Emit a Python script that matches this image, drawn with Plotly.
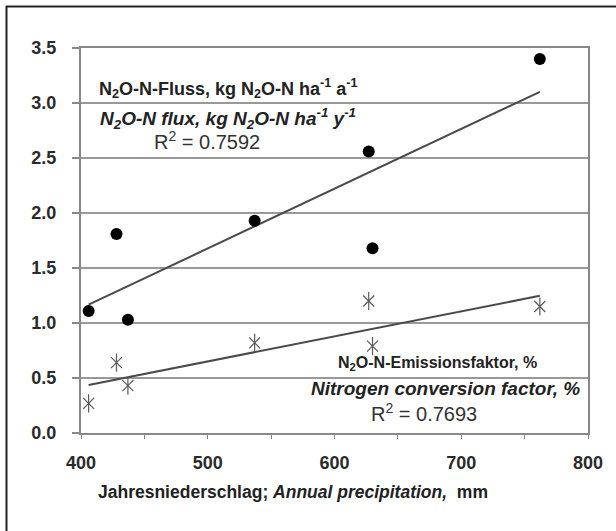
import numpy as np
import plotly.graph_objects as go

# Data
precip = [406, 428, 437, 537, 627, 630, 762]           # mm
flux = [1.11, 1.81, 1.03, 1.93, 2.56, 1.68, 3.40]       # kg N2O-N ha-1 a-1
emfactor = [0.27, 0.64, 0.43, 0.82, 1.20, 0.79, 1.15]   # %
y_ticks = [0.0, 0.5, 1.0, 1.5, 2.0, 2.5, 3.0, 3.5]
x_ticks = [400, 500, 600, 700, 800]

FONT = "Arial, Liberation Sans, sans-serif"
W, H = 616, 531
L, R, T, B = 81, 28, 48, 98
PW, PH = W - L - R, H - T - B

def px_to_x(px):
    return 400 + (px - L) * 400 / PW

def py_to_y(py):
    return (T + PH - py) * 3.5 / PH

def fit(x, y):
    x = np.asarray(x, float); y = np.asarray(y, float)
    b, a = np.polyfit(x, y, 1)
    xs = np.array([x.min(), x.max()])
    return xs, a + b * xs

fig = go.Figure()

for yv in (flux, emfactor):
    xs, ys = fit(precip, yv)
    fig.add_trace(go.Scatter(x=xs, y=ys, mode="lines",
                             line=dict(color="#4a4a4a", width=2),
                             hoverinfo="skip", showlegend=False))

fig.add_trace(go.Scatter(x=precip, y=flux, mode="markers",
                         marker=dict(symbol="circle", size=12, color="black"),
                         showlegend=False))
fig.add_trace(go.Scatter(x=precip, y=emfactor, mode="markers",
                         marker=dict(symbol="x-thin-open", size=11, color="#5a5a5a",
                                     line=dict(color="#5a5a5a", width=1.2)),
                         showlegend=False))
fig.add_trace(go.Scatter(x=precip, y=emfactor, mode="markers",
                         marker=dict(symbol="line-ns-open", size=13, color="#5a5a5a",
                                     line=dict(color="#5a5a5a", width=1.2)),
                         showlegend=False))

def ann(text, px, py, size=14, color="#222222"):
    fig.add_annotation(x=px_to_x(px), y=py_to_y(py), xref="x", yref="y",
                       text=text, showarrow=False, xanchor="center",
                       yanchor="middle",
                       font=dict(family=FONT, size=size, color=color))

ann("<b>N<sub>2</sub>O-N-Fluss, kg N<sub>2</sub>O-N ha<sup>-1</sup> a<sup>-1</sup></b>", 228, 88, size=18)
ann("<b><i>N<sub>2</sub>O-N flux, kg N<sub>2</sub>O-N ha<sup>-1</sup> y<sup>-1</sup></i></b>", 228, 118, size=19)
ann("R<sup>2</sup> = 0.7592", 207, 140, size=20, color="#333333")
ann("<b>N<sub>2</sub>O-N-Emissionsfaktor, %</b>", 437, 363, size=16)
ann("<b><i>Nitrogen conversion factor, %</i></b>", 445, 388, size=19)
ann("R<sup>2</sup> = 0.7693", 424, 412, size=20, color="#333333")

fig.add_annotation(x=(292.5 - L) / PW, y=(T + PH - 492) / PH, xref="paper", yref="paper",
                   text="<b>Jahresniederschlag; <i>Annual precipitation,</i>  mm</b>",
                   showarrow=False, xanchor="center", yanchor="middle",
                   font=dict(family=FONT, size=17.5, color="#222222"))

# outer frame
fig.add_shape(type="rect", xref="paper", yref="paper",
              x0=(6.5 - L) / PW, x1=(625 - L) / PW,
              y0=(T + PH - 540) / PH, y1=(T + PH - 6.5) / PH,
              line=dict(color="#222222", width=2), layer="below")

fig.update_layout(
    width=W, height=H,
    margin=dict(l=L, r=R, t=T, b=B, autoexpand=False),
    paper_bgcolor="white", plot_bgcolor="white",
    font=dict(family=FONT, color="#222222"),
    showlegend=False,
)
fig.update_xaxes(range=[400, 800], tickvals=x_ticks, ticktext=[str(v) for v in x_ticks],
                 ticks="outside", ticklen=4, tickcolor="#888888", tickwidth=1,
                 minor=dict(dtick=50, ticks="outside", ticklen=4, tickcolor="#888888"),
                 showgrid=False, zeroline=False, showline=True, linecolor="#888888",
                 linewidth=2, mirror=True, automargin=False,
                 tickfont=dict(family=FONT, size=18, color="#2a2a2a", weight="bold"),
                 ticklabelstandoff=8)
fig.update_yaxes(range=[0, 3.5], tickvals=y_ticks, ticktext=[f"{v:.1f}" for v in y_ticks],
                 ticks="outside", ticklen=7, tickcolor="#888888", tickwidth=2,
                 showgrid=True, gridcolor="#999999", gridwidth=2, zeroline=False,
                 showline=True, linecolor="#888888", linewidth=2, mirror=True,
                 automargin=False,
                 tickfont=dict(family=FONT, size=18, color="#2a2a2a", weight="bold"),
                 ticklabelstandoff=12)

fig.write_html("out.html", config={"displayModeBar": False},
               post_script="document.body.style.margin='0';")
